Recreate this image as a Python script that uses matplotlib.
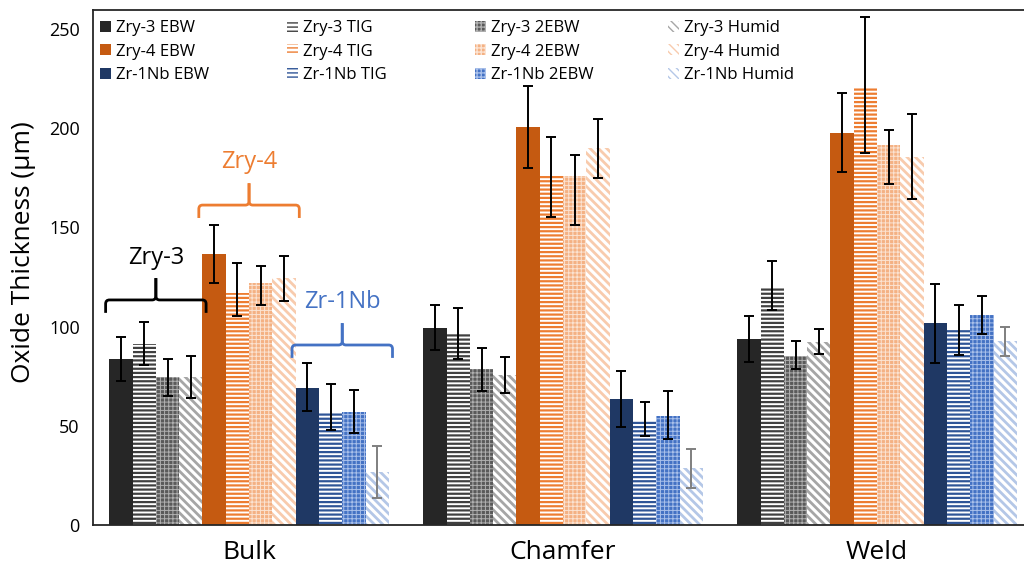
import matplotlib
matplotlib.use('Agg')
import matplotlib.pyplot as plt
from matplotlib.path import Path
from matplotlib.patches import PathPatch
import numpy as np

plt.rcParams['font.family'] = ['Open Sans', 'DejaVu Sans']

# ---------------- data ----------------
categories = ['Bulk', 'Chamfer', 'Weld']
series_labels = ['Zry-3 EBW', 'Zry-3 TIG', 'Zry-3 2EBW', 'Zry-3 Humid',
                 'Zry-4 EBW', 'Zry-4 TIG', 'Zry-4 2EBW', 'Zry-4 Humid',
                 'Zr-1Nb EBW', 'Zr-1Nb TIG', 'Zr-1Nb 2EBW', 'Zr-1Nb Humid']

zry3_ebw = [83.5, 99.4, 93.5]
zry3_tig = [91.0, 96.2, 119.5]
zry3_2ebw = [74.7, 78.4, 85.3]
zry3_humid = [74.7, 75.6, 92.3]
zry4_ebw = [136.5, 200.3, 197.6]
zry4_tig = [116.7, 175.8, 220.0]
zry4_2ebw = [121.8, 175.8, 191.4]
zry4_humid = [124.3, 189.8, 185.5]
zr1nb_ebw = [69.2, 63.5, 101.6]
zr1nb_tig = [57.1, 52.4, 98.6]
zr1nb_2ebw = [57.1, 55.1, 105.6]
zr1nb_humid = [26.9, 28.6, 92.7]

# error bars: [lower, upper]
zry3_ebw_err = [[10.8, 11.2, 11.2], [11.0, 11.3, 11.8]]
zry3_tig_err = [[10.4, 12.6, 11.3], [11.4, 13.1, 13.5]]
zry3_2ebw_err = [[9.6, 10.9, 6.9], [9.1, 10.9, 7.5]]
zry3_humid_err = [[10.6, 9.0, 6.0], [10.4, 8.9, 6.3]]
zry4_ebw_err = [[14.5, 20.6, 19.8], [14.5, 21.0, 19.9]]
zry4_tig_err = [[11.4, 20.5, 32.7], [15.4, 19.8, 35.8]]
zry4_2ebw_err = [[11.1, 24.5, 19.8], [8.8, 10.8, 7.6]]
zry4_humid_err = [[11.3, 14.8, 21.3], [11.4, 14.6, 21.5]]
zr1nb_ebw_err = [[11.6, 14.0, 19.8], [12.3, 14.2, 19.8]]
zr1nb_tig_err = [[9.2, 7.6, 12.8], [13.9, 9.6, 12.4]]
zr1nb_2ebw_err = [[10.6, 11.8, 9.4], [11.1, 12.6, 9.8]]
zr1nb_humid_err = [[13.5, 10.0, 7.4], [12.9, 9.8, 6.9]]

series_values = [zry3_ebw, zry3_tig, zry3_2ebw, zry3_humid,
                 zry4_ebw, zry4_tig, zry4_2ebw, zry4_humid,
                 zr1nb_ebw, zr1nb_tig, zr1nb_2ebw, zr1nb_humid]
series_errors = [zry3_ebw_err, zry3_tig_err, zry3_2ebw_err, zry3_humid_err,
                 zry4_ebw_err, zry4_tig_err, zry4_2ebw_err, zry4_humid_err,
                 zr1nb_ebw_err, zr1nb_tig_err, zr1nb_2ebw_err, zr1nb_humid_err]

brace_labels = ['Zry-3', 'Zry-4', 'Zr-1Nb']
brace_line_y = [113.4, 161.2, 90.7]
brace_text_y = [134.5, 182.9, 112.3]

# ---------------- styles ----------------
kinds = ['solid', 'tig', '2ebw', 'humid'] * 3
colors = ['#262626', '#404040', '#5a5a5a', '#a6a6a6',
          '#c55a11', '#ed7d31', '#f4b183', '#f8cbad',
          '#1f3864', '#2f5597', '#4472c4', '#b4c7e7']
grid_colors = {2: '#b0b0b0', 6: '#fbe3d2', 10: '#a9c0ea'}
err_colors = ['black'] * 11 + ['#7f7f7f']
brace_colors = ['black', '#ed7d31', '#4472c4']

fig = plt.figure(figsize=(10.24, 5.70), dpi=100)
ax = fig.add_axes([93 / 1024, 45 / 570, (1024 - 93) / 1024, 515 / 570])

w = 0.0742
x = np.arange(len(categories))
handles = []
for i, (vals, err) in enumerate(zip(series_values, series_errors)):
    off = (i - 5.5) * w
    kind = kinds[i]
    c = colors[i]
    if kind == 'solid':
        kw = dict(color=c, linewidth=0)
        hl = 1.0
    elif kind == 'tig':
        kw = dict(facecolor='white', edgecolor=c, hatch='----', linewidth=0)
        hl = 1.6
    elif kind == '2ebw':
        kw = dict(facecolor=c, edgecolor=grid_colors[i], hatch='++++', linewidth=0)
        hl = 0.7
    else:
        kw = dict(facecolor='white', edgecolor=c, hatch='\\\\\\\\', linewidth=0)
        hl = 2.0
    with plt.rc_context({'hatch.linewidth': hl}):
        bc = ax.bar(x + off, vals, width=w, label=series_labels[i], zorder=1, **kw)
    for p in bc.patches:
        if hasattr(p, 'set_hatch_linewidth'):
            p.set_hatch_linewidth(hl)
    handles.append(bc)
    ax.errorbar(x + off, vals, yerr=err, fmt='none', ecolor=err_colors[i],
                elinewidth=1.4, capsize=3.5, capthick=1.4, zorder=3)


def draw_brace(xc, half, y, color, rx=0.012, ry=2.0, hook=6.5, tick=11.0):
    for s in (-1, 1):
        x0 = xc + s * half
        verts = [(x0, y - hook), (x0, y - ry), (x0, y), (x0 - s * rx, y),
                 (xc + s * rx, y), (xc, y), (xc, y + ry), (xc, y + tick)]
        codes = [Path.MOVETO, Path.LINETO, Path.CURVE3, Path.CURVE3,
                 Path.LINETO, Path.CURVE3, Path.CURVE3, Path.LINETO]
        ax.add_patch(PathPatch(Path(verts, codes), fill=False, edgecolor=color,
                               linewidth=2.0, capstyle='butt', zorder=4))


for k in range(3):
    xc = x[0] + (4 * k - 4) * w
    draw_brace(xc, 0.16, brace_line_y[k], brace_colors[k])
    ax.text(xc, brace_text_y[k], brace_labels[k], color=brace_colors[k],
            fontsize=17, ha='center', va='center')

ax.set_xlim(-0.497, -0.497 + (1024 - 93) / 314)
ax.set_ylim(0, 259.5)
ax.set_xticks(x)
ax.set_xticklabels(categories)
ax.set_yticks([0, 50, 100, 150, 200, 250])
ax.tick_params(axis='x', length=0, pad=11, labelsize=19)
ax.tick_params(axis='y', length=0, pad=9.5, labelsize=13)
ax.set_ylabel('Oxide Thickness (µm)', fontsize=19)
ax.yaxis.set_label_coords(-0.061, 0.53)
ax.spines['right'].set_visible(False)
for sp in ('left', 'top', 'bottom'):
    ax.spines[sp].set_color('#262626')
    ax.spines[sp].set_linewidth(1.3)

leg_x = [100 / 1024, 287 / 1024, 475 / 1024, 668 / 1024]
for col in range(4):
    hs = [handles[col + 4 * r] for r in range(3)]
    ls = [series_labels[col + 4 * r] for r in range(3)]
    leg = fig.legend(hs, ls, loc='upper left', bbox_to_anchor=(leg_x[col], 1 - 20 / 570),
                     frameon=False, fontsize=12, handlelength=0.65, handleheight=0.65,
                     handletextpad=0.3, labelspacing=0.45, borderpad=0, borderaxespad=0)

fig.savefig('out.png', dpi=100)
